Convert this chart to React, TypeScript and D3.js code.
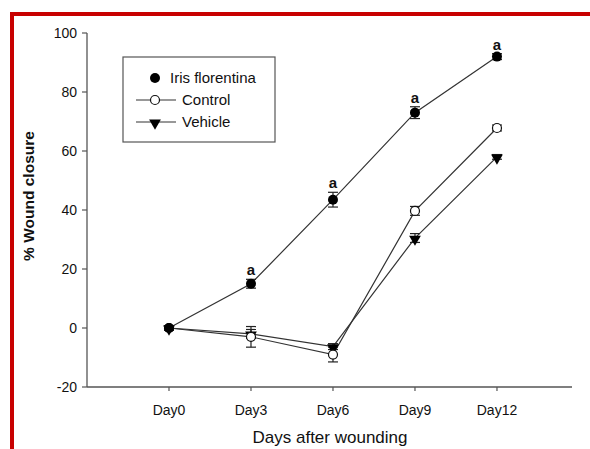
import * as d3 from "d3";

const days = ["Day0", "Day3", "Day6", "Day9", "Day12"];
const irisValues = [0, 15, 43.5, 73, 92];
const irisErrors = [0.8, 1.5, 2.5, 2, 1];
const controlValues = [0, -3, -9, 39.7, 67.8];
const controlErrors = [0.8, 3.5, 2.5, 1.5, 1];
const vehicleValues = [0, -2, -6.3, 30.5, 58];
const vehicleErrors = [0.8, 1.5, 1, 1.5, 0.8];
const yTicks = [-20, 0, 20, 40, 60, 80, 100];
const significance = ["", "a", "a", "a", "a"];

const W = 590;
const H = 449;
const axisColor = "#555";
const lineColor = "#333";
const font = "Arial, 'Liberation Sans', sans-serif";

const x = d3.scaleLinear().domain([-1, 4.915]).range([87, 572]);
const y = d3.scaleLinear().domain([-20, 100]).range([387, 33]);

const tri = d3.symbol().type(d3.symbolTriangle).size(60)();

function Marker({ kind, cx, cy }: { kind: string; cx: number; cy: number }) {
  if (kind === "filled") return <circle cx={cx} cy={cy} r={5} fill="#000" />;
  if (kind === "open")
    return <circle cx={cx} cy={cy} r={4.5} fill="#fff" stroke="#111" strokeWidth={1.2} />;
  return <path d={tri} transform={`translate(${cx},${cy + 1}) rotate(180)`} fill="#000" />;
}

const series = [
  { name: "Iris florentina", values: irisValues, errors: irisErrors, kind: "filled" },
  { name: "Control", values: controlValues, errors: controlErrors, kind: "open" },
  { name: "Vehicle", values: vehicleValues, errors: vehicleErrors, kind: "tri" },
];

export default function App() {
  const line = d3
    .line<number>()
    .x((_, i) => x(i))
    .y((d) => y(d));

  return (
    <svg
      width={W}
      height={H}
      style={{ position: "absolute", left: 0, top: 0, background: "#fff" }}
      fontFamily={font}
    >
      {/* red frame */}
      <rect x={0} y={0} width={W} height={H} fill="#fff" />
      <line x1={10} y1={14} x2={W} y2={14} stroke="#c80000" strokeWidth={4} />
      <line x1={12} y1={12} x2={12} y2={H} stroke="#c80000" strokeWidth={4} />

      {/* axes */}
      <line x1={87} y1={y(100)} x2={87} y2={y(-20)} stroke={axisColor} strokeWidth={1.3} />
      <line x1={87} y1={y(-20)} x2={572} y2={y(-20)} stroke={axisColor} strokeWidth={1.3} />
      {yTicks.map((t) => (
        <g key={t}>
          <line x1={82} x2={87} y1={y(t)} y2={y(t)} stroke={axisColor} strokeWidth={1.2} />
          <text x={77} y={y(t)} dy="0.35em" textAnchor="end" fontSize={14} fill="#111">
            {t}
          </text>
        </g>
      ))}
      {days.map((d, i) => (
        <g key={d}>
          <line x1={x(i)} x2={x(i)} y1={y(-20)} y2={y(-20) + 4} stroke={axisColor} strokeWidth={1.2} />
          <text x={x(i)} y={415} textAnchor="middle" fontSize={14} fill="#111">
            {d}
          </text>
        </g>
      ))}
      <text x={330} y={443} textAnchor="middle" fontSize={17} fill="#111">
        Days after wounding
      </text>
      <text
        transform={`translate(34,196) rotate(-90)`}
        textAnchor="middle"
        fontSize={15.5}
        fontWeight="bold"
        fill="#111"
      >
        % Wound closure
      </text>

      {/* series */}
      {series.map((s) => (
        <g key={s.name}>
          <path d={line(s.values) ?? ""} fill="none" stroke={lineColor} strokeWidth={1.2} />
          {s.values.map((v, i) => (
            <g key={i} stroke="#222" strokeWidth={1.2}>
              <line x1={x(i)} x2={x(i)} y1={y(v - s.errors[i])} y2={y(v + s.errors[i])} />
              <line x1={x(i) - 5} x2={x(i) + 5} y1={y(v + s.errors[i])} y2={y(v + s.errors[i])} />
              <line x1={x(i) - 5} x2={x(i) + 5} y1={y(v - s.errors[i])} y2={y(v - s.errors[i])} />
            </g>
          ))}
        </g>
      ))}
      {series
        .slice()
        .reverse()
        .map((s) =>
          s.values.map((v, i) => <Marker key={s.name + i} kind={s.kind} cx={x(i)} cy={y(v)} />)
        )}
      {significance.map((a, i) =>
        a ? (
          <text
            key={i}
            x={x(i)}
            y={y(irisValues[i] + irisErrors[i]) - 4}
            textAnchor="middle"
            fontSize={15}
            fontWeight="bold"
            fill="#111"
          >
            {a}
          </text>
        ) : null
      )}

      {/* legend */}
      <rect x={123} y={57} width={152} height={85} fill="#fff" stroke="#555" strokeWidth={1.2} />
      {series.map((s, i) => {
        const ly = 78 + i * 22;
        return (
          <g key={s.name}>
            {s.kind !== "filled" && (
              <line x1={136} x2={176} y1={ly} y2={ly} stroke={lineColor} strokeWidth={1.2} />
            )}
            <Marker kind={s.kind} cx={155} cy={ly} />
            <text x={s.kind === "filled" ? 170 : 182} y={ly} dy="0.35em" fontSize={15} fill="#111">
              {s.name}
            </text>
          </g>
        );
      })}
    </svg>
  );
}
